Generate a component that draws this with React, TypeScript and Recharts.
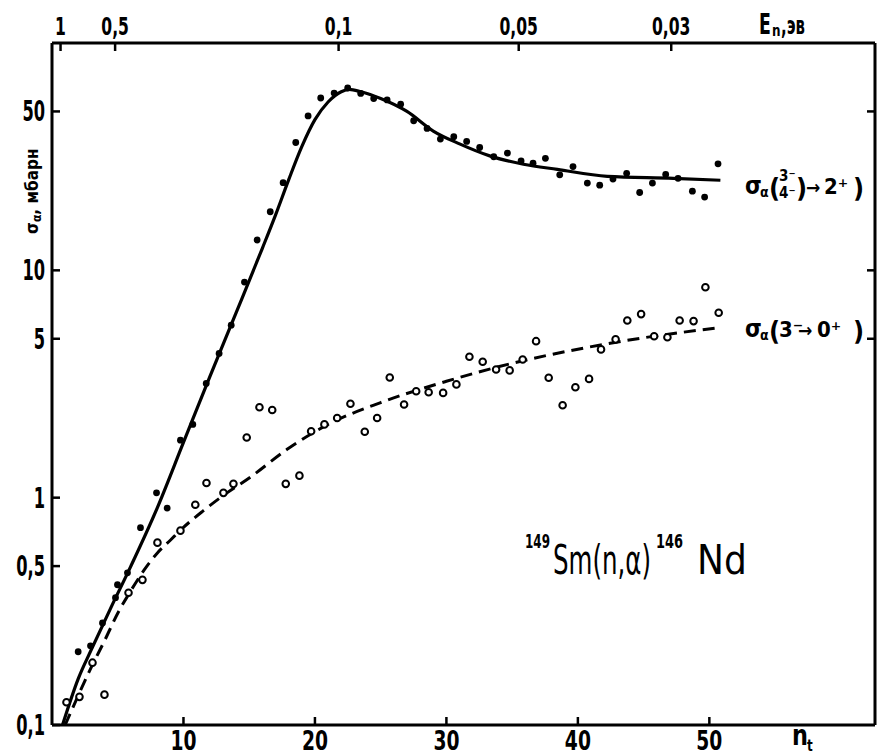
import React from 'react';
import { ComposedChart, Line, Scatter, XAxis, YAxis } from 'recharts';

// time channel n_t and cross-section sigma (mb)
// filled points: sigma_a(3-/4- -> 2+)
const nFilled = [1.99, 2.93, 3.84, 4.83, 4.98, 5.74, 6.73, 7.95, 8.76, 9.77, 10.71, 11.73, 12.71, 13.63, 14.64, 15.6, 16.6, 17.58, 18.54, 19.48, 20.44, 21.46, 22.49, 23.48, 24.47, 25.49, 26.52, 27.51, 28.53, 29.54, 30.56, 31.54, 32.53, 33.6, 34.64, 35.68, 36.59, 37.53, 38.62, 39.63, 40.72, 41.66, 42.67, 43.71, 44.7, 45.67, 46.68, 47.62, 48.71, 49.64, 50.66];
const sigmaFilled = [0.21, 0.223, 0.281, 0.363, 0.414, 0.467, 0.738, 1.05, 0.9, 1.79, 2.1, 3.18, 4.31, 5.74, 8.88, 13.6, 18.1, 24.3, 36.5, 47.8, 57.3, 60.2, 63.4, 60.0, 57.0, 56.2, 53.8, 45.5, 42.1, 37.8, 38.7, 36.9, 34.7, 31.6, 32.8, 30.3, 29.6, 31.1, 26.3, 28.6, 24.2, 23.7, 25.2, 26.7, 22.0, 24.2, 26.4, 25.4, 22.3, 21.0, 29.4];

// open points: sigma_a(3- -> 0+)
const nOpen = [1.1, 2.09, 3.08, 3.99, 5.82, 6.88, 8.02, 9.77, 10.9, 11.75, 13.04, 13.8, 14.81, 15.78, 16.75, 17.78, 18.82, 19.71, 20.72, 21.69, 22.7, 23.79, 24.73, 25.69, 26.78, 27.7, 28.65, 29.75, 30.76, 31.75, 32.76, 33.78, 34.81, 35.8, 36.82, 37.78, 38.84, 39.81, 40.85, 41.76, 42.87, 43.76, 44.81, 45.8, 46.81, 47.74, 48.8, 49.7, 50.71];
const sigmaOpen = [0.126, 0.133, 0.188, 0.136, 0.382, 0.435, 0.634, 0.716, 0.931, 1.16, 1.05, 1.15, 1.84, 2.5, 2.43, 1.15, 1.25, 1.96, 2.1, 2.24, 2.59, 1.95, 2.24, 3.38, 2.57, 2.94, 2.91, 2.89, 3.15, 4.17, 3.96, 3.66, 3.63, 4.05, 4.88, 3.37, 2.55, 3.06, 3.33, 4.49, 4.97, 6.02, 6.42, 5.13, 5.08, 6.02, 5.98, 8.42, 6.51];

// drawn curves (solid and dashed)
const nSolid = [0.8, 2, 3, 4.5, 6, 8, 10, 12, 14, 16, 17, 18, 19, 20, 21, 22, 22.6, 23.5, 25, 27, 29, 31, 33.35, 35.86, 38.44, 42.24, 47.26, 50.84];
const sigmaSolid = [0.1, 0.16, 0.215, 0.33, 0.5, 0.9, 1.75, 3.4, 6.5, 12.5, 17.5, 25, 35, 46, 55, 61, 62.5, 61, 57, 50, 41, 36, 31.8, 29.3, 27.8, 25.9, 25.4, 24.9];
const nDashed = [1, 2, 3, 4, 5, 6, 7, 8, 9, 10, 11.5, 13, 15, 18, 21, 25, 30, 35, 40, 45, 50.84];
const sigmaDashed = [0.1, 0.135, 0.18, 0.235, 0.31, 0.39, 0.48, 0.57, 0.65, 0.74, 0.875, 1.02, 1.22, 1.65, 2.1, 2.62, 3.25, 3.9, 4.5, 5.05, 5.6];

const xTicks = [10, 20, 30, 40, 50];
const yTicks = [0.1, 0.5, 1, 5, 10, 50];
const yTickLabels = ['0,1', '0,5', '1', '5', '10', '50'];
const rightTicks = [5, 10, 50];
// upper scale: neutron energy E_n (eV) at channel positions
const topTickN = [0.65, 4.8, 21.8, 35.5, 47.1];
const topTickLabels = ['1', '0,5', '0,1', '0,05', '0,03'];

const zip = (xs: number[], ys: number[]) => xs.map((n, i) => ({ n, s: ys[i] }));

const FONT = "'DejaVu Sans', sans-serif";
const COND = "'DejaVu Sans Condensed', 'DejaVu Sans', sans-serif";

function Sq({ x, y, size, sx, anchor, children, weight = 700 }: any) {
  return (
    <text
      transform={`translate(${x},${y}) scale(${sx},1)`}
      textAnchor={anchor}
      fontSize={size}
      fontWeight={weight}
      fontFamily={FONT}
      fill="#000"
    >
      {children}
    </text>
  );
}

const LeftTick = (props: any) => {
  const i = yTicks.indexOf(props.payload.value);
  return <Sq x={45} y={props.y + 10} size={28} sx={0.58} anchor="end">{yTickLabels[i]}</Sq>;
};
const BottomTick = (props: any) => (
  <Sq x={props.x} y={750} size={26} sx={0.72} anchor="middle">{props.payload.value}</Sq>
);
const TopTick = (props: any) => {
  const i = topTickN.indexOf(props.payload.value);
  return <Sq x={props.x} y={35} size={24} sx={0.65} anchor="middle">{topTickLabels[i]}</Sq>;
};

const dotShape = (p: any) => <circle cx={p.cx} cy={p.cy} r={3.4} fill="#000" />;
const ringShape = (p: any) => <circle cx={p.cx} cy={p.cy} r={3.3} fill="#fff" stroke="#000" strokeWidth={2} />;

const axisLine = { stroke: '#000', strokeWidth: 3 };
const tickLine = { stroke: '#000', strokeWidth: 2.5 };

export default function App() {
  return (
    <div style={{ position: 'absolute', left: 0, top: 0, width: 880, height: 756, background: '#fff' }}>
      <ComposedChart width={880} height={756} margin={{ top: 0, right: 0, bottom: 0, left: 0 }}>
        <XAxis xAxisId="b" dataKey="n" type="number" domain={[0, 62.6]} allowDataOverflow
          ticks={xTicks} interval={0} orientation="bottom" height={31}
          tickSize={-8} axisLine={axisLine} tickLine={tickLine} tick={BottomTick} />
        <XAxis xAxisId="t" dataKey="n" type="number" domain={[0, 62.6]} allowDataOverflow
          ticks={topTickN} interval={0} orientation="top" height={43}
          tickSize={-8} axisLine={axisLine} tickLine={tickLine} tick={TopTick} />
        <YAxis yAxisId="l" dataKey="s" type="number" scale="log" domain={[0.1, 100]} allowDataOverflow
          ticks={yTicks} interval={0} orientation="left" width={52}
          tickSize={-8} axisLine={axisLine} tickLine={tickLine} tick={LeftTick} />
        <YAxis yAxisId="r" dataKey="s" type="number" scale="log" domain={[0.1, 100]} allowDataOverflow
          ticks={rightTicks} interval={0} orientation="right" width={5}
          tickSize={-8} axisLine={axisLine} tickLine={tickLine} tick={() => <g />} />

        <Line xAxisId="b" yAxisId="l" data={zip(nSolid, sigmaSolid)} dataKey="s" type="monotone"
          stroke="#000" strokeWidth={3.2} dot={false} activeDot={false} isAnimationActive={false} />
        <Line xAxisId="b" yAxisId="l" data={zip(nDashed, sigmaDashed)} dataKey="s" type="monotone"
          stroke="#000" strokeWidth={3} strokeDasharray="12 7" dot={false} activeDot={false} isAnimationActive={false} />
        <Scatter xAxisId="b" yAxisId="l" data={zip(nFilled, sigmaFilled)} dataKey="s"
          shape={dotShape} isAnimationActive={false} />
        <Scatter xAxisId="b" yAxisId="l" data={zip(nOpen, sigmaOpen)} dataKey="s"
          shape={ringShape} isAnimationActive={false} />
      </ComposedChart>

      <svg width={880} height={756} style={{ position: 'absolute', left: 0, top: 0, pointerEvents: 'none' }}>
        {/* axis titles */}
        <text transform="translate(38,234) rotate(-90)" fontFamily={COND} fontWeight={700} fontSize={17} fill="#000">
          σ<tspan fontSize={12} dy={3}>α</tspan><tspan dy={-3}>, мбарн</tspan>
        </text>
        <Sq x={759} y={34} size={28} sx={0.62} anchor="start">E</Sq>
        <Sq x={772} y={36} size={15} sx={0.8} anchor="start">n</Sq>
        <Sq x={781} y={34} size={24} sx={0.62} anchor="start">,эв</Sq>
        <Sq x={792} y={745} size={28} sx={0.8} anchor="start">n</Sq>
        <Sq x={807} y={751} size={15} sx={0.8} anchor="start">t</Sq>

        {/* curve labels */}
        <g fontFamily={COND} fontWeight={700} fill="#000">
          <text x={745} y={194} fontSize={24}>σ</text>
          <text x={760} y={197} fontSize={14}>α</text>
          <text x={769} y={197} fontSize={27}>(</text>
          <text x={779} y={181} fontSize={15}>3⁻</text>
          <text x={779} y={198} fontSize={15}>4⁻</text>
          <text x={796} y={197} fontSize={27}>)</text>
          <text x={806} y={194} fontSize={19}>→</text>
          <text x={824} y={194} fontSize={22}>2⁺</text>
          <text x={853} y={197} fontSize={27}>)</text>

          <text x={745} y={337} fontSize={24}>σ</text>
          <text x={760} y={340} fontSize={14}>α</text>
          <text x={769} y={340} fontSize={27}>(</text>
          <text x={779} y={337} fontSize={22}>3⁻</text>
          <text x={798} y={337} fontSize={19}>→</text>
          <text x={817} y={337} fontSize={22}>0⁺</text>
          <text x={853} y={340} fontSize={27}>)</text>
        </g>

        {/* reaction */}
        <g fontFamily={COND} fill="#000">
          <text x={525} y={548} fontSize={19} fontWeight={700} textLength={25} lengthAdjust="spacingAndGlyphs">149</text>
          <text x={553} y={574} fontSize={40} textLength={98} lengthAdjust="spacingAndGlyphs">Sm(n,α)</text>
          <text x={656} y={548} fontSize={19} fontWeight={700} textLength={27} lengthAdjust="spacingAndGlyphs">146</text>
          <text x={697} y={574} fontSize={40}>Nd</text>
        </g>
      </svg>
    </div>
  );
}
